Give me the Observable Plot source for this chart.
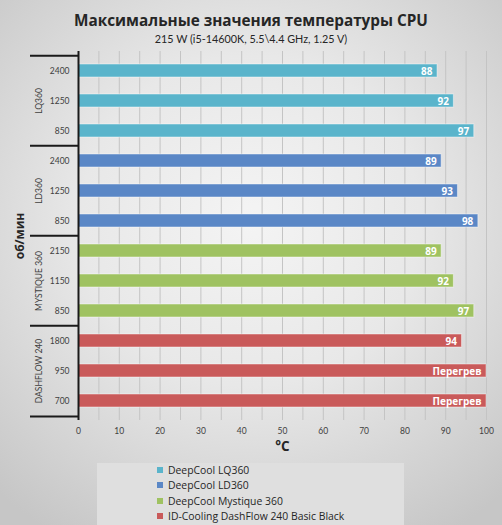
<!DOCTYPE html>
<html><head><meta charset="utf-8">
<script src="https://cdn.jsdelivr.net/npm/d3@7"></script>
<script src="https://cdn.jsdelivr.net/npm/@observablehq/plot@0.6"></script>
<style>
html,body{margin:0;padding:0;}
#wrap{position:relative;width:502px;height:525px;overflow:hidden;
 background:radial-gradient(ellipse 75% 70% at 50% 42%, #f4f4f4 0%, #e8e8e8 45%, #c6c6c6 100%);}
#title{position:absolute;top:10px;left:0;width:502px;text-align:center;font:bold 15.3px "Open Sans";color:#262626;}
#sub{position:absolute;top:32px;left:0;width:502px;text-align:center;font:10.8px "Lato";color:#262626;}
#chart{position:absolute;top:0;left:0;}
#legend{position:absolute;left:97px;top:463px;width:307px;height:70px;background:#dfdfdf;}
.li{position:absolute;left:60px;font:10.4px "Open Sans";color:#262626;white-space:nowrap;}
.sw{display:inline-block;width:6px;height:6px;margin-right:5px;vertical-align:1px;}
</style></head>
<body><div id="wrap">
<div id="title">Максимальные значения температуры CPU</div>
<div id="sub">215 W (i5-14600K, 5.5\4.4 GHz, 1.25 V)</div>
<div id="chart"></div>
<div id="legend"></div>
</div>
<script>
const groups = ["LQ360", "LD360", "MYSTIQUE 360", "DASHFLOW 240"];
const seriesNames = ["DeepCool LQ360", "DeepCool LD360", "DeepCool Mystique 360", "ID-Cooling DashFlow 240 Basic Black"];
const colors = ["#5ab4cb", "#5a87c6", "#9fc261", "#c95a5a"];
const rpm = [["2400", "1250", "850"], ["2400", "1250", "850"], ["2150", "1150", "850"], ["1800", "950", "700"]];
const temps = [[88, 92, 97], [89, 93, 98], [89, 92, 97], [94, "Перегрев", "Перегрев"]];
const xTicks = [0, 10, 20, 30, 40, 50, 60, 70, 80, 90, 100];
const xMax = 100;

const rows = [];
groups.forEach((g, gi) => rpm[gi].forEach((r, ri) => {
  const t = temps[gi][ri];
  rows.push({group: g, gi, key: g + "|" + r, rpm: r,
    value: typeof t === "number" ? t : xMax,
    label: typeof t === "number" ? String(t) : t,
    first: ri === 0, last: ri === rpm[gi].length - 1, mid: ri === 1});
}));

const W = 502, H = 460, mT = 51, mB = 40, mL = 78, mR = 16;
const step = (H - mT - mB) / rows.length;
const pInner = 0.57;

const chart = Plot.plot({
  width: W, height: H,
  marginTop: mT, marginBottom: mB, marginLeft: mL, marginRight: mR,
  style: {background: "transparent", fontFamily: "Lato", fontSize: "8.5px", color: "#404040"},
  x: {domain: [0, xMax], ticks: xTicks, label: null},
  y: {domain: rows.map(d => d.key), paddingInner: pInner, paddingOuter: pInner / 2, label: null},
  color: {domain: groups, range: colors},
  marks: [
    Plot.gridX(d3.range(0, xMax + 1, 5), {stroke: "#c4c4c4", strokeOpacity: 1, strokeWidth: 1}),
    Plot.barX(rows, {y: "key", x: "value", fill: "group", stroke: "#ffffff", strokeOpacity: 0.45, strokeWidth: 1}),
    Plot.text(rows, {y: "key", x: "value", text: "label", textAnchor: "end", dx: -5, dy: 0.5,
      fill: "white", fontWeight: "bold", fontSize: 10, fontFamily: "Open Sans"}),
    Plot.axisX({ticks: xTicks, tickSize: 0, tickPadding: 7, label: null, fontSize: 8.5}),
    Plot.axisY({tickSize: 0, tickPadding: 9, tickFormat: k => k.split("|")[1], label: null, fontSize: 8.5}),
    Plot.ruleX([0], {stroke: "#1a1a1a", strokeWidth: 2}),
    Plot.ruleY(rows.filter(d => d.first), {y: "key", dy: -step / 2, stroke: "#1a1a1a", strokeWidth: 2, insetLeft: -48, insetRight: W - mL - mR}),
    Plot.ruleY(rows.filter(d => d.last && d.gi === groups.length - 1), {y: "key", dy: step / 2, stroke: "#1a1a1a", strokeWidth: 2, insetLeft: -48, insetRight: W - mL - mR}),
    Plot.text(rows.filter(d => d.mid), {y: "key", text: "group", frameAnchor: "left", dx: -39, rotate: -90,
      textAnchor: "middle", fill: "#404040", fontSize: 8.5}),
    Plot.text(["об/мин"], {frameAnchor: "left", dx: -58, rotate: -90, textAnchor: "middle",
      fontWeight: "bold", fontSize: 12, fill: "#262626", fontFamily: "Open Sans"}),
    Plot.text(["°C"], {frameAnchor: "bottom", dy: 30, textAnchor: "middle",
      fontWeight: "bold", fontSize: 13.5, fill: "#262626", fontFamily: "Open Sans"})
  ]
});
document.getElementById("chart").appendChild(chart);

const lg = document.getElementById("legend");
seriesNames.forEach((n, i) => {
  const d = document.createElement("div");
  d.className = "li";
  d.style.top = (0 + i * 15.3) + "px";
  d.innerHTML = `<span class="sw" style="background:${colors[i]}"></span>`;
  d.appendChild(document.createTextNode(n));
  lg.appendChild(d);
});
</script>
</body></html>
